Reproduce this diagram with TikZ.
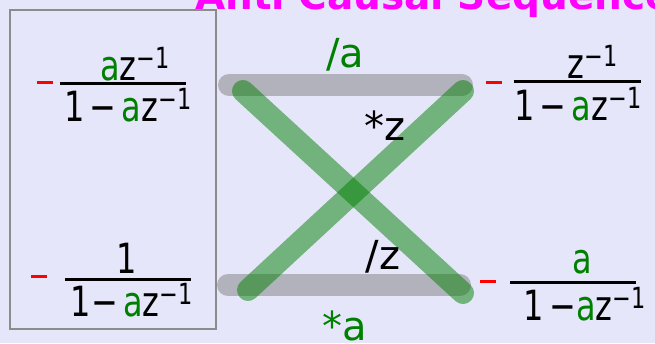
\documentclass[tikz,border=0pt]{standalone}
\usepackage{fontspec}
\setmainfont{DejaVu Sans}
\definecolor{bgcol}{RGB}{230,230,250}
\definecolor{vargreen}{RGB}{0,128,0}
\definecolor{titlecol}{RGB}{255,0,255}
\definecolor{boxgray}{RGB}{140,140,140}
\newcommand{\va}{\textcolor{vargreen}{a}}
\newcommand{\zinv}{z\textsuperscript{−1}}
\newcommand{\hand}[1]{\scalebox{1}[1.3]{#1}}

\begin{document}
\begin{tikzpicture}[x=1pt,y=-1pt,
  term/.style={inner sep=0pt, font=\fontsize{32}{32}\selectfont},
  lbl/.style={inner sep=0pt, font=\fontsize{40}{40}\selectfont},
  title/.style={inner sep=0pt, text=titlecol, font=\fontsize{39}{39}\selectfont\bfseries},
  fracbar/.style={line width=3pt},
  sign/.style={red, line width=3pt},
  graybar/.style={line width=22pt, line cap=round, gray, opacity=0.5},
  greenbar/.style={line width=22pt, line cap=round, vargreen, opacity=0.5}
]
  \fill[bgcol] (0,0) rectangle (655,343);
  \useasboundingbox (0,0) rectangle (655,343);

  % title, cut by the top edge
  \node[title, anchor=base west] (head) at (195,9.5) {Anti Causal Sequence};

  % left box
  \draw[boxgray, line width=2pt] (10,10) rectangle (216,329);

  % top left term
  \draw[sign] (37,82) -- (53,82);
  \draw[fracbar] (60,83) -- (186,83);
  \node[term] (tlnum) at (135,64) {\hand{\va\zinv}};
  \node[term] (tlden) at (128,105) {\hand{1\,−\,\va\zinv}};

  % bottom left term
  \draw[sign] (31,276) -- (47,276);
  \draw[fracbar] (65,279) -- (191,279);
  \node[term] (blnum) at (127,258) {\hand{1}};
  \node[term] (blden) at (132,300) {\hand{1−\,\va\zinv}};

  % top right term
  \draw[sign] (486,82) -- (502,82);
  \draw[fracbar] (514,81) -- (641,81);
  \node[term] (trnum) at (593,62) {\hand{\zinv}};
  \node[term] (trden) at (578,104) {\hand{1\,−\,\va\zinv}};

  % bottom right term
  \draw[sign] (480,281) -- (496,281);
  \draw[fracbar] (510,282) -- (636,282);
  \node[term] (brnum) at (582,262) {\hand{\va}};
  \node[term] (brden) at (585,304) {\hand{1\,−\va\zinv}};

  % bars and crossing lines
  \coordinate (p1) at (229,85);
  \coordinate (p2) at (462,85);
  \coordinate (p3) at (228,285);
  \coordinate (p4) at (460,285);
  \draw[graybar] (p1) -- (p2);
  \draw[graybar] (p3) -- (p4);
  \draw[greenbar] (243,91) -- (463,293);
  \draw[greenbar] (248,290) -- (463,91);

  % labels
  \node[lbl, text=vargreen] (diva) at (345,55) {/a};
  \node[lbl] (mulz) at (385,126) {*z};
  \node[lbl] (divz) at (383,257) {/z};
  \node[lbl, text=vargreen] (mula) at (345,326) {*a};
\end{tikzpicture}
\end{document}
